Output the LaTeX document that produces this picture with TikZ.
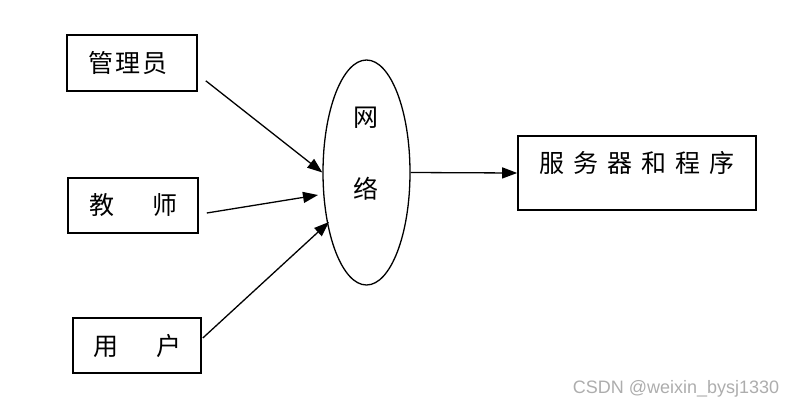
\documentclass[tikz,border=0pt]{standalone}
\usepackage{fontspec}
\newfontfamily\cjk{Noto Sans CJK SC}
\newfontfamily\wm{Liberation Sans}
\usetikzlibrary{arrows.meta,shapes.geometric,calc}
\begin{document}
\begin{tikzpicture}[x=1pt,y=-1pt,
  box/.style={draw,line width=1.6pt,inner sep=0pt},
  oval/.style={draw,ellipse,line width=1.3pt,inner sep=0pt,minimum width=87pt,minimum height=225pt},
  lbl/.style={font=\cjk\fontsize{25}{25}\selectfont,inner sep=0pt},
  conn/.style={line width=1.3pt,-{Triangle[length=15pt,width=11pt]}},
  wmark/.style={font=\wm\fontsize{18}{18}\selectfont,text=black!32,inner sep=0pt}]
\useasboundingbox (0,0) rectangle (800,410);
\node[box,minimum width=130pt,minimum height=56pt] (g) at (132,63) {};
\node[lbl] (gt) at (128,63) {管\hspace{2pt}理\hspace{2pt}员};
\node[box,minimum width=130pt,minimum height=55pt] (t) at (133,205.5) {};
\node[lbl] (tt) at (133,205) {教\hspace{38pt}师};
\node[box,minimum width=128pt,minimum height=55pt] (u) at (137,345.5) {};
\node[lbl] (ut) at (137,346) {用\hspace{38pt}户};
\node[oval] (n) at (366.5,172.5) {};
\node[lbl] (n1) at (366,118) {网};
\node[lbl] (n2) at (366,189) {络};
\node[box,minimum width=238pt,minimum height=74pt] (s) at (637,173) {};
\node[lbl] (st) at (637,163) {服\hspace{9pt}务\hspace{9pt}器\hspace{9pt}和\hspace{9pt}程\hspace{9pt}序};
\draw[conn] ($(g.south east)+(8,-11)$) -- (n.west);
\draw[conn] ($(t.east)+(8,7.5)$) -- ($(n.center)+(-48.5,22.5)$);
\draw[conn] ($(u.east)+(1,-7.5)$) -- ($(n.center)+(-37.5,49.5)$);
\draw[conn] (n.east) -- (s.west);
\node[wmark] (w) at (676,389) {CSDN @weixin\_bysj1330};
\end{tikzpicture}
\end{document}
